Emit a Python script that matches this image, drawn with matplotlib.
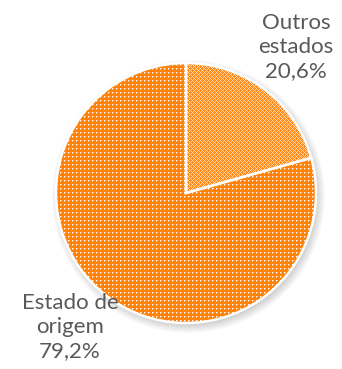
import numpy as np
import matplotlib.pyplot as plt

# participação por origem
labels = ['Outros\nestados', 'Estado de\norigem']
shares = [20.6, 79.2]
label_text = ['20,6%', '79,2%']

W, H = 342, 369
fig = plt.figure(figsize=(W / 100, H / 100), dpi=100)
ax = fig.add_axes([0, 0, 1, 1])

cx, cy, r = 186, H - 193, 130
orange = np.array([255, 130, 10]) / 255.0

wedges, _ = ax.pie(shares, startangle=90, counterclock=False,
                   center=(cx, cy), radius=r,
                   wedgeprops=dict(edgecolor='white', linewidth=1.8))

# padrões de preenchimento (pontilhado)
yy, xx = np.mgrid[0:H, 0:W]
mx, my = xx % 4, yy % 4
dots = np.zeros((H, W))
dots[(mx == 0) & (my == 0)] = 1.0
dots[((mx == 1) & (my == 0)) | ((mx == 0) & (my == 1))] = 0.5
diag = np.where(((xx + yy) % 4 == 0) | ((xx - yy) % 4 == 0), 0.75, 0.05)


def textura(mask):
    img = np.ones((H, W, 3)) * orange
    img = img * (1 - mask[..., None]) + mask[..., None]
    return img


padroes = [diag, dots]
for w, m in zip(wedges, padroes):
    im = ax.imshow(textura(m), extent=(0, W, 0, H), origin='upper',
                   interpolation='nearest', zorder=2)
    im.set_clip_path(w)
    w.set_facecolor('none')
    w.set_zorder(3)

# sombra suave
d = np.hypot(xx - (cx + 2), (H - yy) - (cy - 3))
sh = np.clip(1 - (d - (r - 3)) / 10, 0, 1) * 0.35
sh[d < r - 3] = 0.35
shadow = np.zeros((H, W, 4))
shadow[..., :3] = 0.45
shadow[..., 3] = sh
ax.imshow(shadow, extent=(0, W, 0, H), origin='upper', zorder=1)

txt = dict(ha='center', va='center', color='#595959', fontsize=16,
           family='Lato', linespacing=1.28)
ax.text(296, H - 47, labels[0] + '\n' + label_text[0], **txt)
ax.text(70, H - 327, labels[1] + '\n' + label_text[1], **txt)

ax.set_xlim(0, W)
ax.set_ylim(0, H)
ax.set_aspect('equal')
ax.axis('off')
fig.savefig('out.png', dpi=100)
